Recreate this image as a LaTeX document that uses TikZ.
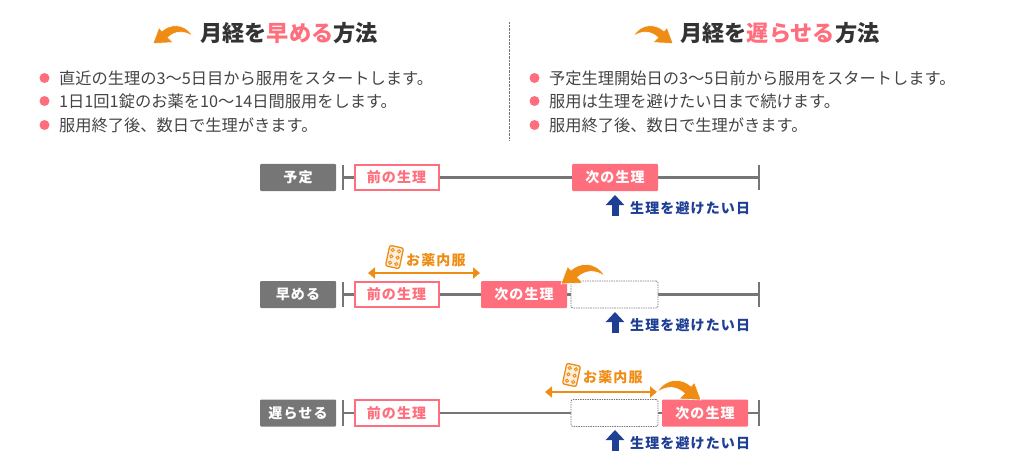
\documentclass[tikz,border=0pt]{standalone}
\usepackage{fontspec}
\setmainfont{Noto Sans CJK JP}
\newfontfamily\jpwide[LetterSpace=8]{Noto Sans CJK JP}
\usetikzlibrary{arrows.meta,positioning}
\pgfdeclarelayer{background}
\pgfsetlayers{background,main}
\definecolor{pinkred}{HTML}{FF6E7C}
\definecolor{darktext}{HTML}{333333}
\definecolor{bodytext}{HTML}{444444}
\definecolor{barcol}{HTML}{767676}
\definecolor{orangecol}{HTML}{EE8C14}
\definecolor{navycol}{HTML}{1F3F94}
\tikzset{
  title/.style = {anchor=west, inner sep=0pt, text=darktext, font=\fontsize{22.2}{26}\selectfont\bfseries},
  bullet/.style = {circle, fill=pinkred, inner sep=0pt, minimum size=10pt},
  item/.style = {anchor=west, inner sep=0pt, text=bodytext, font=\fontsize{16.25}{19}\selectfont},
  rowlabel/.style = {fill=barcol, text=white, rounded corners=1pt, minimum width=76pt, minimum height=27pt, inner sep=0pt, font=\fontsize{14}{16}\selectfont\jpwide\bfseries},
  prevbox/.style = {draw=pinkred, line width=2pt, fill=white, text=pinkred, minimum width=84pt, minimum height=25.5pt, inner sep=0pt, font=\fontsize{14}{16}\selectfont\jpwide\bfseries},
  nextbox/.style = {fill=pinkred, text=white, rounded corners=1pt, minimum width=86pt, minimum height=27pt, inner sep=0pt, font=\fontsize{14}{16}\selectfont\jpwide\bfseries},
  emptybox/.style = {draw=barcol, line width=0.8pt, dash pattern=on 1.4pt off 1pt, fill=white, rounded corners=2pt, minimum width=87pt, minimum height=27pt, inner sep=0pt},
  timeline/.style = {draw=barcol, line width=2.3pt},
  dayarrow/.style = {draw=navycol, line width=7pt, -{Triangle[length=10pt,width=18pt]}},
  daylabel/.style = {anchor=west, inner sep=0pt, text=navycol, font=\fontsize{14}{16}\selectfont\jpwide\bfseries},
  medarrow/.style = {draw=orangecol, fill=orangecol, line width=2pt, {Triangle[length=7pt,width=11pt]}-{Triangle[length=7pt,width=11pt]}},
  medlabel/.style = {anchor=west, inner sep=0pt, text=orangecol, font=\fontsize{14}{16}\selectfont\jpwide\bfseries},
  pics/bendarrow/.style = {code = {
    \path[fill=orangecol, draw=white, line width=0.6pt] (0,0) -- (6,-16) -- (9,-12.5)
      .. controls (16,-19) and (31,-22) .. (40,-7)
      .. controls (31,-13) and (23,-13) .. (15,-6) -- (20,-1) -- cycle;
  }},
  pics/pillsheet/.style = {code = {
    \draw[orangecol, line width=1.3pt, fill=orangecol!15, rounded corners=2pt] (-7,-10.5) rectangle (7,10.5);
    \foreach \px in {-3.2,3.2}
      \foreach \py in {-6.5,0,6.5}
        \draw[orangecol, line width=0.9pt] (\px,\py) circle (1.6);
  }}
}

\begin{document}
\begin{tikzpicture}[x=1pt,y=-1pt]
  \useasboundingbox (0,0) rectangle (1019,465);

  % headings
  \pic at (153,43.5) {bendarrow};
  \node[title] (titleL) at (200,33) {月経を\textcolor{pinkred}{早める}方法};
  \pic[xscale=-1] at (673,43.5) {bendarrow};
  \node[title] (titleR) at (680,33) {月経を\textcolor{pinkred}{遅らせる}方法};

  \coordinate (divtop) at (509,22);
  \coordinate (divbot) at (509,140);
  \draw[barcol, densely dotted] (divtop) -- (divbot);

  % left list
  \node[bullet] (bulA) at (44.5,78) {};
  \node[bullet] (bulB) at (44.5,101) {};
  \node[bullet] (bulC) at (44.5,125) {};
  \node[item] (itemA) at (59,78) {直近の生理の3〜5日目から服用をスタートします。};
  \node[item] (itemB) at (59,101) {1日1回1錠のお薬を10〜14日間服用をします。};
  \node[item] (itemC) at (59,125) {服用終了後、数日で生理がきます。};

  % right list
  \node[bullet] (bulD) at (534.5,78) {};
  \node[bullet] (bulE) at (534.5,101) {};
  \node[bullet] (bulF) at (534.5,125) {};
  \node[item] (itemD) at (549,78) {予定生理開始日の3〜5日前から服用をスタートします。};
  \node[item] (itemE) at (549,101) {服用は生理を避けたい日まで続けます。};
  \node[item] (itemF) at (549,125) {服用終了後、数日で生理がきます。};

  % row 1
  \node[rowlabel] (labelA) at (298,177.5) {予定};
  \node[prevbox] (prevA) at (396.5,177.5) {前の生理};
  \node[nextbox] (nextA) at (615,177.5) {次の生理};
  \coordinate (startA) at (343,177.5);
  \coordinate (endA) at (759,177.5);
  \begin{pgfonlayer}{background}
    \draw[timeline] (startA) -- (endA);
    \draw[timeline] (343,165) -- (343,190);
    \draw[timeline] (759,165) -- (759,190);
  \end{pgfonlayer}
  \coordinate (dayfootA) at (615,216);
  \coordinate (daytipA) at (615,195);
  \draw[dayarrow] (dayfootA) -- (daytipA);
  \node[daylabel] (dayA) at (630,208) {生理を避けたい日};

  % row 2
  \node[rowlabel] (labelB) at (298,294.5) {早める};
  \node[prevbox] (prevB) at (396.5,294.5) {前の生理};
  \node[nextbox] (nextB) at (524,294.5) {次の生理};
  \node[emptybox] (gapB) at (614.5,294.5) {};
  \coordinate (startB) at (343,294.5);
  \coordinate (endB) at (759,294.5);
  \begin{pgfonlayer}{background}
    \draw[timeline] (startB) -- (endB);
    \draw[timeline] (343,282) -- (343,307);
    \draw[timeline] (759,282) -- (759,307);
  \end{pgfonlayer}
  \coordinate (medleftB) at (368,273);
  \coordinate (medrightB) at (480,273);
  \draw[medarrow] (medleftB) -- (medrightB);
  \pic[rotate=-12] at (394.5,257) {pillsheet};
  \node[medlabel] (medB) at (406,260) {お薬内服};
  \pic[scale=1.1] at (561,284) {bendarrow};
  \coordinate (dayfootB) at (615,333);
  \coordinate (daytipB) at (615,312);
  \draw[dayarrow] (dayfootB) -- (daytipB);
  \node[daylabel] (dayB) at (630,325) {生理を避けたい日};

  % row 3
  \node[rowlabel] (labelC) at (298,413) {遅らせる};
  \node[prevbox] (prevC) at (396.5,413) {前の生理};
  \node[emptybox] (gapC) at (614.5,413) {};
  \node[nextbox] (nextC) at (705,413) {次の生理};
  \coordinate (startC) at (343,413);
  \coordinate (endC) at (759,413);
  \begin{pgfonlayer}{background}
    \draw[timeline] (startC) -- (endC);
    \draw[timeline] (343,400) -- (343,425.5);
    \draw[timeline] (759,400) -- (759,425.5);
  \end{pgfonlayer}
  \coordinate (medleftC) at (545,392);
  \coordinate (medrightC) at (657,392);
  \draw[medarrow] (medleftC) -- (medrightC);
  \pic[rotate=-12] at (571.5,375) {pillsheet};
  \node[medlabel] (medC) at (583,377.5) {お薬内服};
  \pic[xscale=-1.1,yscale=1.1] at (701,400) {bendarrow};
  \coordinate (dayfootC) at (615,451);
  \coordinate (daytipC) at (615,430);
  \draw[dayarrow] (dayfootC) -- (daytipC);
  \node[daylabel] (dayC) at (630,443) {生理を避けたい日};

\end{tikzpicture}
\end{document}
